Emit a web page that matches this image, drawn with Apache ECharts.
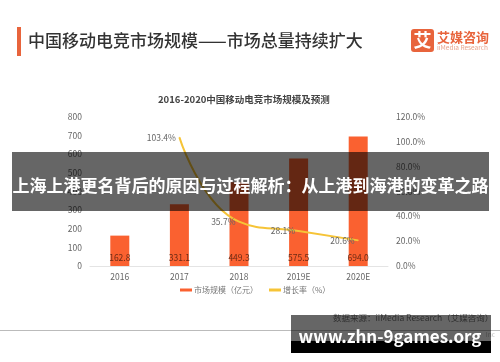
<!DOCTYPE html>
<html>
<head>
<meta charset="utf-8">
<script src="https://cdn.jsdelivr.net/npm/echarts@6/dist/echarts.min.js"></script>
<style>
html, body { margin: 0; padding: 0; background: #fff; }
#chart { width: 500px; height: 362px; }
</style>
</head>
<body>
<div id="chart"></div>
<script>
let font = '"Noto Sans CJK SC", "Noto Sans", sans-serif';

let years = ['2016', '2017', '2018', '2019E', '2020E'];
let market_size = [162.8, 331.1, 449.3, 575.5, 694.0];
let growth_rate = [null, 103.4, 35.7, 28.1, 20.6];
let left_ticks = { min: 0, max: 800, interval: 100 };
let right_ticks = { min: 0, max: 120, interval: 20 };

let myChart = echarts.init(document.getElementById('chart'));

let option = {
    animation: false,
    textStyle: { fontFamily: font },
    title: {
        text: '2016-2020中国移动电竞市场规模及预测',
        left: 153,
        top: 90,
        textStyle: { fontSize: 9.5, fontWeight: 'bold', color: '#444', fontFamily: font }
    },
    grid: { left: 90, right: 112, top: 116.7, bottom: 96 },
    legend: {
        left: 175,
        top: 281,
        itemGap: 11,
        itemWidth: 12,
        itemHeight: 3,
        textStyle: { fontSize: 8, color: '#777', padding: [0, 0, 0, -3] },
        data: [
            { name: '市场规模（亿元）', icon: 'rect' },
            { name: '增长率（%）', icon: 'rect' }
        ]
    },
    xAxis: {
        type: 'category',
        data: years,
        axisLine: { lineStyle: { color: '#e4e4e4' } },
        axisTick: { show: false },
        axisLabel: { fontSize: 8.5, color: '#666', margin: 7 }
    },
    yAxis: [
        {
            type: 'value',
            min: left_ticks.min,
            max: left_ticks.max,
            interval: left_ticks.interval,
            axisLine: { show: false },
            axisTick: { show: false },
            splitLine: { show: false },
            axisLabel: { fontSize: 8.5, color: '#666', margin: 8 }
        },
        {
            type: 'value',
            min: right_ticks.min,
            max: right_ticks.max,
            interval: right_ticks.interval,
            axisLine: { show: false },
            axisTick: { show: false },
            splitLine: { show: false },
            axisLabel: {
                fontSize: 8.5,
                color: '#666',
                margin: 8,
                formatter: function (v) { return v.toFixed(1) + '%'; }
            }
        }
    ],
    series: [
        {
            name: '市场规模（亿元）',
            type: 'bar',
            barWidth: 19,
            data: market_size,
            itemStyle: { color: '#fa6130' },
            label: {
                show: true,
                position: 'insideBottom',
                distance: 4,
                fontSize: 8.5,
                color: '#6b2a14',
                formatter: function (p) { return p.value.toFixed(1); }
            }
        },
        {
            name: '增长率（%）',
            type: 'line',
            yAxisIndex: 1,
            smooth: true,
            symbol: 'circle',
            symbolSize: 1,
            data: growth_rate,
            lineStyle: { color: '#f6c437', width: 2 },
            itemStyle: { color: '#f6c437' },
            label: {
                show: true,
                position: 'left',
                distance: 3,
                fontSize: 8.5,
                color: '#666',
                formatter: function (p) { return p.value.toFixed(1) + '%'; }
            }
        }
    ],
    graphic: [
        // slide heading
        { type: 'rect', shape: { x: 17, y: 27, width: 4, height: 29 }, style: { fill: '#e8643c' } },
        { type: 'text', x: 28, y: 41, style: { text: '中国移动电竞市场规模——市场总量持续扩大', font: '500 17px ' + font, fill: '#333', textVerticalAlign: 'middle' } },
        // logo
        { type: 'rect', shape: { x: 411, y: 29, width: 23, height: 23, r: 3 }, style: { fill: '#e8643c' } },
        { type: 'text', x: 422.5, y: 40.5, style: { text: '艾', font: 'bold 18px ' + font, fill: '#fff', textAlign: 'center', textVerticalAlign: 'middle' } },
        { type: 'text', x: 437, y: 37, style: { text: '艾媒咨询', font: 'bold 13px ' + font, fill: '#e8643c', textVerticalAlign: 'middle' } },
        { type: 'text', x: 437, y: 48, style: { text: 'iiMedia Research', font: '6.5px ' + font, fill: '#e8a58e', textVerticalAlign: 'middle' } },
        // footer
        { type: 'text', x: 333, y: 318, style: { text: '数据来源：iiMedia Research（艾媒咨询）', font: '8.5px ' + font, fill: '#777', textVerticalAlign: 'middle' } },
        { type: 'rect', shape: { x: 0, y: 330, width: 500, height: 1 }, style: { fill: '#bbb' } },
        { type: 'text', x: 495, y: 335, style: { text: 'Inc', font: '6.5px ' + font, fill: '#bbb', textAlign: 'right', textVerticalAlign: 'middle' } },
        // overlays on top of the picture
        { type: 'rect', z: 100, shape: { x: 12, y: 152, width: 477, height: 59 }, style: { fill: 'rgba(0,0,0,0.6)' } },
        { type: 'text', z: 101, x: 250.5, y: 186, style: { text: '上海上港更名背后的原因与过程解析：从上港到海港的变革之路', font: 'bold 17px ' + font, fill: '#fff', textAlign: 'center', textVerticalAlign: 'middle' } },
        { type: 'rect', z: 100, shape: { x: 291, y: 315, width: 200, height: 26 }, style: { fill: 'rgba(0,0,0,0.6)' } },
        { type: 'rect', z: 100, shape: { x: 291, y: 341, width: 200, height: 12 }, style: { fill: '#000' } },
        { type: 'text', z: 101, x: 390, y: 337, style: { text: 'www.zhn-9games.org', font: 'bold 17px ' + font, fill: '#fff', textAlign: 'center', textVerticalAlign: 'middle' } }
    ]
};

myChart.setOption(option);
</script>
</body>
</html>
